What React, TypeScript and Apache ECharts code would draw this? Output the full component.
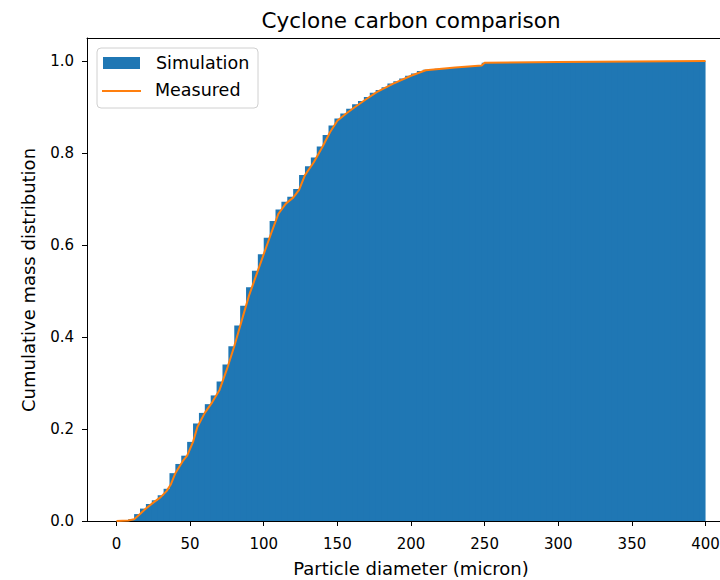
import React, { useEffect, useRef } from "react";
import * as echarts from "echarts";

const title = "Cyclone carbon comparison";
const xAxisName = "Particle diameter (micron)";
const yAxisName = "Cumulative mass distribution";
const xTicks = [0, 50, 100, 150, 200, 250, 300, 350, 400];
const yTicks = [0, 0.2, 0.4, 0.6, 0.8, 1.0];
const legendNames = ["Simulation", "Measured"];

// Simulation: cumulative histogram, bins of 4 micron from 0 to 400
const binWidth = 4;
const simulation = [
  0.0, 0.001, 0.004, 0.015, 0.027, 0.037, 0.045, 0.056, 0.07, 0.104,
  0.124, 0.142, 0.172, 0.212, 0.235, 0.254, 0.273, 0.303, 0.34, 0.38,
  0.425, 0.468, 0.508, 0.544, 0.58, 0.616, 0.652, 0.677, 0.694, 0.705,
  0.722, 0.752, 0.771, 0.79, 0.814, 0.839, 0.86, 0.875, 0.886, 0.896,
  0.906, 0.913, 0.922, 0.931, 0.937, 0.943, 0.951, 0.956, 0.962, 0.968,
  0.973, 0.978, 0.981, 0.982, 0.983, 0.984, 0.985, 0.986, 0.987, 0.988,
  0.989, 0.99, 0.996, 0.996, 0.996, 0.997, 0.997, 0.997, 0.997, 0.998,
  0.998, 0.998, 0.998, 0.998, 0.998, 0.998, 0.998, 0.999, 0.999, 0.999,
  0.999, 0.999, 0.999, 0.999, 0.999, 0.999, 0.999, 0.999, 0.999, 1.0,
  1.0, 1.0, 1.0, 1.0, 1.0, 1.0, 1.0, 1.0, 1.0, 1.0,
];

// Measured: diameter (micron) and cumulative mass fraction
const measuredDiameter = [
  0, 8, 12, 16, 20, 25, 30, 34, 37, 40, 45, 48, 52, 55, 60, 65, 70, 75, 80, 85,
  90, 95, 100, 105, 110, 115, 120, 124, 128, 134, 140, 145, 150, 156, 162, 170,
  177, 188, 200, 210, 230, 248, 250, 300, 400,
];
const measuredValue = [
  0, 0.001, 0.004, 0.015, 0.027, 0.04, 0.052, 0.065, 0.08, 0.104, 0.13, 0.142,
  0.172, 0.205, 0.235, 0.258, 0.285, 0.33, 0.38, 0.435, 0.49, 0.535, 0.58,
  0.625, 0.668, 0.69, 0.703, 0.72, 0.752, 0.78, 0.814, 0.845, 0.87, 0.886, 0.9,
  0.918, 0.933, 0.951, 0.968, 0.98, 0.986, 0.99, 0.996, 0.998, 1.0,
];

const BLUE = "#1f77b4";
const ORANGE = "#ff7f0e";
const FONT = "DejaVu Sans";

export default function App() {
  const ref = useRef<HTMLDivElement>(null);
  useEffect(() => {
    if (!ref.current) return;
    const chart = echarts.init(ref.current, null, { renderer: "svg" });
    const barData = simulation.map((v, i) => [i * binWidth, (i + 1) * binWidth, v]);
    const lineData = measuredDiameter.map((d, i) => [d, measuredValue[i]]);
    const axisCommon = {
      type: "value" as const,
      min: -20,
      max: 420,
      splitLine: { show: false },
    };
    chart.setOption({
      animation: false,
      backgroundColor: "#ffffff",
      grid: {
        left: 87,
        top: 38,
        width: 648,
        height: 483,
        containLabel: false,
        outerBoundsMode: "none",
      },
      xAxis: [
        {
          ...axisCommon,
          position: "bottom",
          axisLine: { show: true, onZero: false, lineStyle: { color: "#000", width: 1 } },
          axisTick: { show: true, length: 5, customValues: xTicks, lineStyle: { color: "#000" } },
          axisLabel: {
            customValues: xTicks,
            color: "#000",
            fontSize: 15,
            fontFamily: FONT,
            margin: 15,
            formatter: (v: number) => String(v),
          },
        },
        {
          ...axisCommon,
          position: "top",
          axisLine: { show: true, onZero: false, lineStyle: { color: "#000", width: 1 } },
          axisTick: { show: false },
          axisLabel: { show: false },
        },
      ],
      yAxis: {
        type: "value",
        min: 0,
        max: 1.05,
        splitLine: { show: false },
        axisLine: { show: true, onZero: false, lineStyle: { color: "#000", width: 1 } },
        axisTick: { show: true, length: 5, customValues: yTicks, lineStyle: { color: "#000" } },
        axisLabel: {
          customValues: yTicks,
          color: "#000",
          fontSize: 15,
          fontFamily: FONT,
          margin: 13,
          formatter: (v: number) => v.toFixed(1),
        },
      },
      series: [
        {
          name: legendNames[0],
          type: "custom",
          xAxisIndex: 0,
          yAxisIndex: 0,
          encode: { x: [0, 1], y: 2 },
          data: barData,
          renderItem: (params: any, api: any) => {
            const p0 = api.coord([api.value(0), api.value(2)]);
            const p1 = api.coord([api.value(1), 0]);
            const last = params.dataIndex === simulation.length - 1;
            return {
              type: "rect",
              shape: {
                x: p0[0],
                y: p0[1],
                width: p1[0] - p0[0] + (last ? 0 : 1),
                height: p1[1] - p0[1],
              },
              style: { fill: BLUE },
            };
          },
          z: 1,
        },
        {
          name: legendNames[1],
          type: "line",
          data: lineData,
          showSymbol: false,
          symbol: "none",
          lineStyle: { color: ORANGE, width: 2 },
          z: 3,
        },
      ],
      graphic: [
        {
          type: "text",
          x: 411,
          y: 20,
          style: {
            text: title,
            fontSize: 21.5,
            fontFamily: FONT,
            fill: "#000",
            align: "center",
            verticalAlign: "middle",
          },
        },
        {
          type: "text",
          x: 411,
          y: 568,
          style: {
            text: xAxisName,
            fontSize: 18,
            fontFamily: FONT,
            fill: "#000",
            align: "center",
            verticalAlign: "middle",
          },
        },
        {
          type: "text",
          x: 28,
          y: 280,
          rotation: Math.PI / 2,
          style: {
            text: yAxisName,
            fontSize: 18,
            fontFamily: FONT,
            fill: "#000",
            align: "center",
            verticalAlign: "middle",
          },
        },
        {
          type: "rect",
          shape: { x: 97, y: 48, width: 161, height: 60, r: 4 },
          style: { fill: "rgba(255,255,255,0.8)", stroke: "#d0d0d0", lineWidth: 1 },
          z: 10,
        },
        {
          type: "rect",
          shape: { x: 103, y: 57, width: 37, height: 12 },
          style: { fill: BLUE },
          z: 11,
        },
        {
          type: "text",
          x: 156,
          y: 63,
          style: {
            text: legendNames[0],
            fontSize: 17.5,
            fontFamily: FONT,
            fill: "#000",
            verticalAlign: "middle",
          },
          z: 11,
        },
        {
          type: "line",
          shape: { x1: 102, y1: 91, x2: 141, y2: 91 },
          style: { stroke: ORANGE, lineWidth: 2 },
          z: 11,
        },
        {
          type: "text",
          x: 155,
          y: 90,
          style: {
            text: legendNames[1],
            fontSize: 17.5,
            fontFamily: FONT,
            fill: "#000",
            verticalAlign: "middle",
          },
          z: 11,
        },
      ],
    });
    return () => chart.dispose();
  }, []);
  return (
    <div
      ref={ref}
      style={{ position: "fixed", left: 0, top: 0, width: 720, height: 580, background: "#fff" }}
    />
  );
}
